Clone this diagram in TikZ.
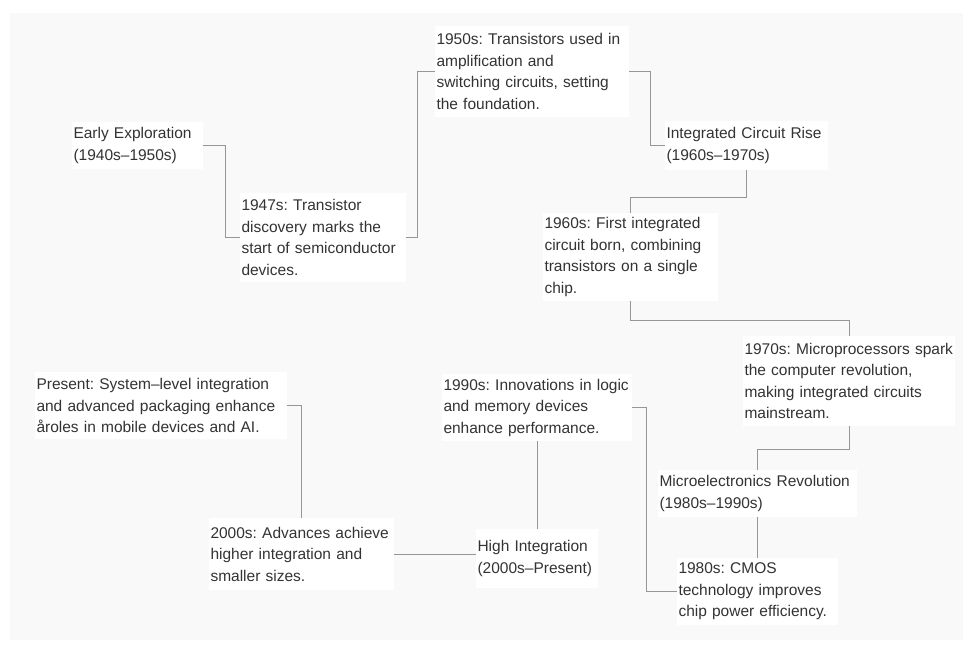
\documentclass[tikz,border=0pt]{standalone}
\usepackage{fontspec}
\setmainfont{Liberation Sans}
\definecolor{canvas}{RGB}{249,249,249}
\definecolor{linkgray}{RGB}{150,150,150}
\definecolor{inkgray}{RGB}{51,51,51}
\begin{document}
\begin{tikzpicture}[
            x=1pt, y=-1pt,
            stage/.style={fill=white, inner xsep=1.5pt, inner ysep=0pt, align=left,
                text=inkgray, font=\fontsize{15.5}{21.5}\selectfont\frenchspacing},
            link/.style={draw=linkgray, line width=0.8pt},
        ]
        \useasboundingbox (0,0) rectangle (973,653);
        \fill[white] (0,0) rectangle (973,653);
        \fill[canvas] (10,13) rectangle (963,640);

        \node[stage, text width=128, minimum height=47] (early) at (137.5, 145.5) {Early Exploration\\(1940s–1950s)};
        \node[stage, text width=163, minimum height=89] (t1947) at (323, 237.5) {1947s: Transistor\\discovery marks the\\start of semiconductor\\devices.};
        \node[stage, text width=191, minimum height=91] (t1950) at (532, 71.5) {1950s: Transistors used in\\amplification and\\switching circuits, setting\\the foundation.};
        \node[stage, text width=160, minimum height=49] (icrise) at (746.5, 145.5) {Integrated Circuit Rise\\(1960s–1970s)};
        \node[stage, text width=172, minimum height=88] (t1960) at (630.5, 257) {1960s: First integrated\\circuit born, combining\\transistors on a single\\chip.};
        \node[stage, text width=209, minimum height=90] (t1970) at (849, 381) {1970s: Microprocessors spark\\the computer revolution,\\making integrated circuits\\mainstream.};
        \node[stage, text width=196, minimum height=47] (micro) at (757.5, 493.5) {Microelectronics Revolution\\(1980s–1990s)};
        \node[stage, text width=158, minimum height=67] (t1980) at (757.5, 591.5) {1980s: CMOS\\technology improves\\chip power efficiency.};
        \node[stage, text width=187, minimum height=67] (t1990) at (537, 407.5) {1990s: Innovations in logic\\and memory devices\\enhance performance.};
        \node[stage, text width=119, minimum height=59] (high) at (537, 558.5) {High Integration\\(2000s–Present)};
        \node[stage, text width=182, minimum height=72] (t2000) at (301.5, 554) {2000s: Advances achieve\\higher integration and\\smaller sizes.};
        \node[stage, text width=249, minimum height=67] (present) at (161, 405.5) {Present: System–level integration\\and advanced packaging enhance\\åroles in mobile devices and AI.};

        \draw[link] (early.east) -- ++(22,0) |- (t1947.west);
        \draw[link] (t1947.east) -- ++(11,0) |- (t1950.west);
        \draw[link] (t1950.east) -- ++(21,0) |- (icrise.west);
        \draw[link] (icrise.south) -- ++(0,27) -| (t1960.north);
        \draw[link] (t1960.south) -- ++(0,19) -| (t1970.north);
        \draw[link] (t1970.south) -- ++(0,23) -| (micro.north);
        \draw[link] (micro.south) -- (t1980.north);
        \draw[link] (t1980.west) -- ++(-30,0) |- (t1990.east);
        \draw[link] (t1990.south) -- (high.north);
        \draw[link] (t2000.east) -- (t2000.east -| high.west);
        \draw[link] (t2000.north) |- (present.east);

    \end{tikzpicture}
\end{document}
